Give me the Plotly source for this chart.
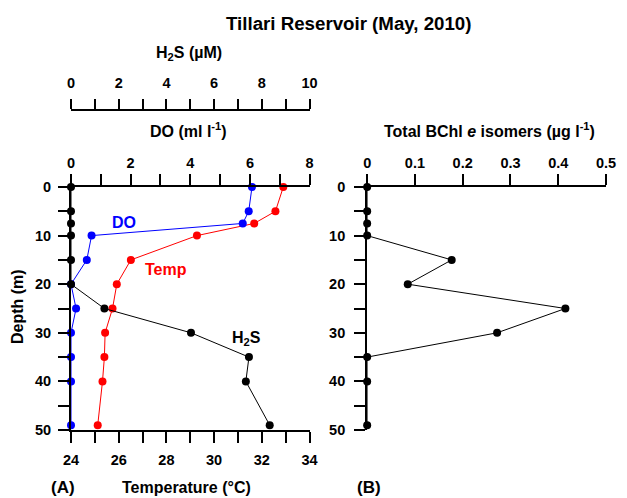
import plotly.graph_objects as go

# ---- data ----
depth = [0, 5, 7.5, 10, 15, 20, 25, 30, 35, 40, 49]
temp = [32.9, 32.57, 31.68, 29.28, 26.51, 25.92, 25.74, 25.43, 25.40, 25.32, 25.12]
do_vals = [6.07, 5.96, 5.76, 0.69, 0.53, 0.0, 0.17, 0.0, 0.0, 0.0, 0.0]
h2s = [0, 0, 0, 0, 0, 0, 1.40, 5.03, 7.46, 7.33, 8.33]
bchl = [0, 0, 0, 0, 0.177, 0.085, 0.415, 0.272, 0, 0, 0]

W, H = 627, 498
ML, MR, MT, MB = 71, 11, 20, 68
PW = W - ML - MR
PH = H - MT - MB


def px(x):
    return (x - ML) / PW


def py(y):
    return (H - MB - y) / PH


FONT = "Liberation Sans, Arial, sans-serif"
TICK = 14.5
main_top = py(187)

fig = go.Figure()

mk = dict(size=8)
fig.add_trace(go.Scatter(x=temp, y=depth, xaxis="x", yaxis="y", mode="lines+markers",
                         line=dict(color="#ff0000", width=1), marker=dict(color="#ff0000", **mk),
                         cliponaxis=False, showlegend=False))
fig.add_trace(go.Scatter(x=do_vals, y=depth, xaxis="x2", yaxis="y", mode="lines+markers",
                         line=dict(color="#0000ff", width=1), marker=dict(color="#0000ff", **mk),
                         cliponaxis=False, showlegend=False))
fig.add_trace(go.Scatter(x=h2s, y=depth, xaxis="x3", yaxis="y", mode="lines+markers",
                         line=dict(color="black", width=1), marker=dict(color="black", **mk),
                         cliponaxis=False, showlegend=False))
fig.add_trace(go.Scatter(x=bchl, y=depth, xaxis="x4", yaxis="y2", mode="lines+markers",
                         line=dict(color="black", width=1), marker=dict(color="black", **mk),
                         cliponaxis=False, showlegend=False))


def ax(ticklen=10, standoff=0, **kw):
    d = dict(showline=True, linewidth=2, linecolor="black", ticks="outside", ticklen=ticklen,
             tickwidth=2, tickcolor="black", showgrid=False, zeroline=False,
             ticklabelstandoff=standoff,
             tickfont=dict(family=FONT, size=TICK, color="black", weight="bold"))
    d.update(kw)
    return d


def minor(d, ticklen=10):
    return dict(dtick=d, ticks="outside", ticklen=ticklen, tickwidth=2, tickcolor="black",
                showgrid=False)


left_dom = [0, px(314)]
right_dom = [px(372.7), 1]

fig.update_layout(
    width=W, height=H,
    margin=dict(l=ML, r=MR, t=MT, b=MB),
    paper_bgcolor="white", plot_bgcolor="white",
    font=dict(family=FONT, size=14, color="black", weight="bold"),
    xaxis=ax(ticklen=11, standoff=5, domain=left_dom, range=[24, 34], anchor="y", side="bottom",
             dtick=2, tick0=24, minor=minor(1, 11)),
    xaxis2=ax(ticklen=11, standoff=0, range=[0, 8], overlaying="x", anchor="y", side="top",
              dtick=2, tick0=0, minor=minor(1, 11)),
    xaxis3=ax(ticklen=10, standoff=5, range=[0, 10], overlaying="x", anchor="free",
              position=py(110), side="top", dtick=2, tick0=0, minor=minor(1, 10)),
    yaxis=ax(ticklen=11, standoff=4, domain=[0, main_top], range=[50, 0], anchor="x",
             dtick=10, tick0=0, minor=minor(5, 11)),
    xaxis4=ax(ticklen=11, standoff=0, domain=right_dom, range=[0, 0.5], anchor="y2",
              side="top", dtick=0.1, tick0=0, tickformat=".1~f"),
    yaxis2=ax(ticklen=11, standoff=6, domain=[0, main_top], range=[50, 0], anchor="x4",
              dtick=10, tick0=0, minor=minor(5, 11)),
)


def ann(text, x, y, size=16, color="black", xref="paper", yref="paper", angle=0):
    fig.add_annotation(text=text, x=x, y=y, xref=xref, yref=yref, showarrow=False,
                       font=dict(family=FONT, size=size, color=color, weight="bold"),
                       xanchor="center", yanchor="middle", textangle=angle)


ann("Tillari Reservoir (May, 2010)", px(353.5), py(23), size=18.7)
ann("H<sub>2</sub>S (µM)", px(191), py(54))
ann("DO (ml l<sup>-1</sup>)", px(191), py(130))
ann("Total BChl <i>e</i> isomers (µg l<sup>-1</sup>)", px(497), py(130))
ann("Temperature (°C)", px(189), py(488))
ann("(A)", px(62.5), py(488), size=17)
ann("(B)", px(374.5), py(487), size=17)
ann("Depth (m)", px(16), py(307), angle=-90)

ann("DO", 26.22, 7.25, color="#0000ff", xref="x", yref="y")
ann("Temp", 28.0, 16.9, color="#ff0000", xref="x", yref="y")
ann("H<sub>2</sub>S", 31.37, 31.1, xref="x", yref="y")

fig.write_html("out.html")
